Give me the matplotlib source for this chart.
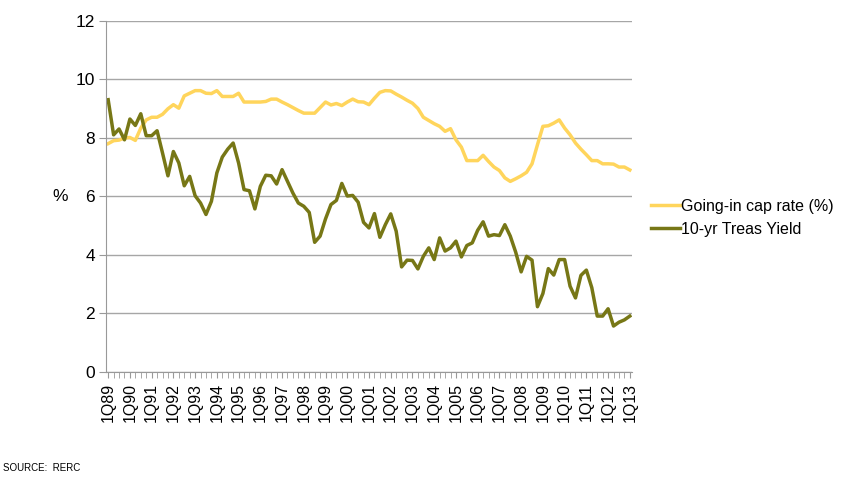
import matplotlib
matplotlib.use('Agg')
import matplotlib.pyplot as plt
import numpy as np

plt.rcParams['font.family'] = ['Liberation Sans', 'DejaVu Sans']

# quarterly, 1Q89 .. 1Q13
years = ['89','90','91','92','93','94','95','96','97','98','99','00','01',
         '02','03','04','05','06','07','08','09','10','11','12','13']
tick_labels = ['1Q' + y for y in years]

cap_rate = [7.80, 7.90, 7.92, 7.99, 8.01, 7.91, 8.33, 8.61, 8.70, 8.70,
            8.80, 8.99, 9.13, 9.01, 9.43, 9.52, 9.61, 9.61, 9.52, 9.51,
            9.61, 9.41, 9.41, 9.41, 9.52, 9.22, 9.22, 9.22, 9.22, 9.24,
            9.32, 9.32, 9.22, 9.13, 9.03, 8.93, 8.84, 8.84, 8.84, 9.03,
            9.22, 9.12, 9.17, 9.10, 9.22, 9.32, 9.23, 9.22, 9.13, 9.35,
            9.55, 9.61, 9.60, 9.49, 9.39, 9.28, 9.18, 9.00, 8.70, 8.59,
            8.48, 8.39, 8.22, 8.31, 7.93, 7.68, 7.22, 7.22, 7.22, 7.40,
            7.19, 7.00, 6.88, 6.63, 6.51, 6.60, 6.70, 6.82, 7.11, 7.76,
            8.39, 8.41, 8.50, 8.61, 8.33, 8.10, 7.82, 7.61, 7.42, 7.22,
            7.22, 7.11, 7.11, 7.10, 7.00, 7.00, 6.90]

treas = [9.30, 8.10, 8.30, 7.93, 8.64, 8.42, 8.82, 8.07, 8.07, 8.24,
         7.48, 6.70, 7.53, 7.14, 6.36, 6.68, 6.02, 5.77, 5.38, 5.83,
         6.80, 7.34, 7.61, 7.82, 7.14, 6.23, 6.19, 5.57, 6.34, 6.72,
         6.70, 6.42, 6.91, 6.51, 6.11, 5.77, 5.66, 5.45, 4.43, 4.64,
         5.23, 5.72, 5.86, 6.44, 6.01, 6.03, 5.80, 5.11, 4.92, 5.41,
         4.60, 5.03, 5.40, 4.81, 3.59, 3.82, 3.81, 3.52, 3.95, 4.24,
         3.84, 4.58, 4.13, 4.24, 4.47, 3.93, 4.32, 4.41, 4.84, 5.13,
         4.64, 4.69, 4.66, 5.03, 4.64, 4.09, 3.42, 3.95, 3.82, 2.23,
         2.68, 3.53, 3.31, 3.84, 3.84, 2.93, 2.53, 3.30, 3.48, 2.88,
         1.91, 1.91, 2.16, 1.57, 1.70, 1.78, 1.91]

x = np.arange(len(cap_rate))

fig = plt.figure(figsize=(8.66, 4.8), dpi=100)
ax = fig.add_axes([0.1224, 0.225, 0.6074, 0.732])

ax.plot(x, cap_rate, color='#FFD55C', lw=2.5, label='Going-in cap rate (%)', solid_joinstyle='round')
ax.plot(x, treas, color='#777716', lw=2.5, label='10-yr Treas Yield', solid_joinstyle='round')

ax.set_ylim(0, 12)
ax.set_yticks(range(0, 13, 2))
ax.set_xlim(-0.4, len(x) - 0.6)
ax.set_xticks(x[::4])
ax.set_xticklabels(tick_labels, rotation=90, fontsize=11.5)
ax.set_xticks(x, minor=True)
ax.tick_params(axis='x', which='both', length=4, color='#999999', direction='out', pad=4)
ax.tick_params(axis='y', length=5, color='#999999', labelsize=12.5, pad=3)

ax.grid(axis='y', color='#A6A6A6', lw=1)
ax.set_axisbelow(True)
for s in ['top', 'right']:
    ax.spines[s].set_visible(False)
ax.spines['left'].set_color('#999999')
ax.spines['bottom'].set_color('#999999')

ax.set_ylabel('%', rotation=0, fontsize=12.5, va='center', ha='center')
ax.yaxis.set_label_coords(-0.087, 0.5)

fig.legend(loc='center left', bbox_to_anchor=(0.7517, 0.546), frameon=False,
           fontsize=11.5, handlelength=1.8, handletextpad=0.1, labelspacing=0.5,
           borderpad=0, borderaxespad=0)

fig.text(0.004, 0.025, 'SOURCE:  RERC', fontsize=7, va='center')

fig.savefig('out.png', dpi=100)
